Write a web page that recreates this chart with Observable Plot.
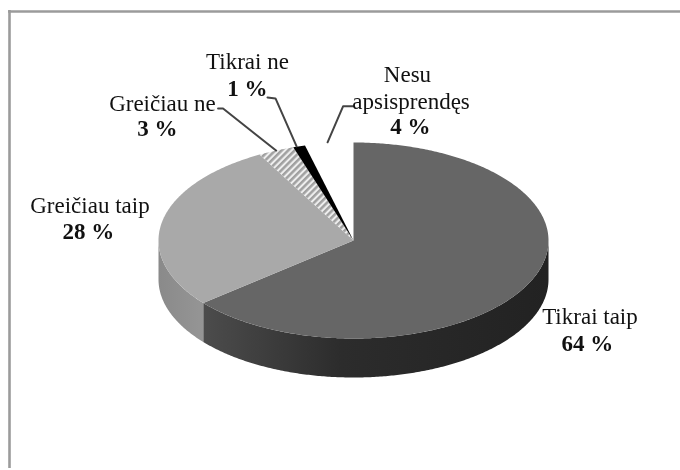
<!DOCTYPE html>
<html><head><meta charset="utf-8">
<script src="https://cdn.jsdelivr.net/npm/d3@7"></script>
<script src="https://cdn.jsdelivr.net/npm/@observablehq/plot@0.6"></script>
<style>html,body{margin:0;padding:0;background:#fff}svg{display:block}</style>
</head><body><div id="chart"></div>
<script>
// Data: share of answers, clockwise from 12 o'clock
const categories = ["Tikrai taip", "Greičiau taip", "Greičiau ne", "Tikrai ne", "Nesu apsisprendęs"];
const values = [64, 28, 3, 1, 4];
const percentLabels = ["64 %", "28 %", "3 %", "1 %", "4 %"];

// Styling and layout (not data)
const topFills = ["#666666", "#a9a9a9", "url(#hatch)", "#000000", "none"];
const pie = {cx: 353, cy: 240, rx: 195, ry: 98, depth: 39};
// text lines relative to the slice's rim point
const textLayout = [
  [{t: "Tikrai taip", dx: 60, dy: 34}, {t: 0, dx: 57.5, dy: 61}],
  [{t: "Greičiau taip", dx: -72, dy: -17}, {t: 1, dx: -73.5, dy: 9}],
  [{t: "Greičiau ne", dx: -113.6, dy: -47}, {t: 2, dx: -118.6, dy: -22}],
  [{t: "Tikrai ne", dx: -51.6, dy: -85}, {t: 3, dx: -51.6, dy: -58}],
  [{t: "Nesu", dx: 78.4, dy: -69}, {t: "apsisprendęs", dx: 82, dy: -42}, {t: 4, dx: 81.4, dy: -17}]
];
// leader elbows relative to the slice's rim point
const leaderLayout = {2: [[-58, -42], [-53, -42], [0, 0]], 3: [[-31.6, -49], [-23.6, -48], [-2.5, 0]], 4: [[24, -37], [14, -37], [-1.5, -1]]};

const total = d3.sum(values);
const pt = (a, drop = 0) => ({x: pie.cx + pie.rx * Math.sin(a), y: pie.cy - pie.ry * Math.cos(a) + drop});
let acc = 0;
const slices = values.map((v, i) => {
  const a0 = acc / total * 2 * Math.PI; acc += v;
  const a1 = acc / total * 2 * Math.PI;
  return {i, a0, a1, mid: (a0 + a1) / 2};
});
const arc = (a0, a1, drop = 0) => {
  const n = Math.max(4, Math.ceil((a1 - a0) / 0.01));
  return d3.range(n + 1).map(k => pt(a0 + (a1 - a0) * k / n, drop));
};

// Top face polygons
const topPolys = slices.filter(s => topFills[s.i] !== "none").flatMap(s => {
  const c = {x: pie.cx, y: pie.cy};
  return [c, ...arc(s.a0, s.a1), c].map(p => ({...p, id: s.i, fill: topFills[s.i]}));
});

// Side wall of the two front slices
const sidePolys = slices.slice(0, 2).flatMap(s => {
  const from = Math.max(s.a0, Math.PI / 2), to = Math.min(s.a1, 3 * Math.PI / 2);
  const top = arc(from, to), low = arc(from, to, pie.depth).reverse();
  return [...top, ...low, top[0]].map(p => ({...p, id: s.i, fill: `url(#side${s.i})`}));
});

const rim = slices.map(s => pt(s.mid));
const textRows = textLayout.flatMap((lines, i) => lines.map(l => ({
  x: rim[i].x + l.dx, y: rim[i].y + l.dy,
  label: typeof l.t === "number" ? percentLabels[l.t] : l.t,
  bold: typeof l.t === "number"
})));
const leaderRows = Object.entries(leaderLayout).flatMap(([i, ps]) => ps.map(([dx, dy]) => ({x: rim[i].x + dx, y: rim[i].y + dy, id: i})));

const defs = () => {
  const ns = "http://www.w3.org/2000/svg";
  const d = document.createElementNS(ns, "defs");
  const split = pt(slices[0].a1).x, right = pie.cx + pie.rx, left = pie.cx - pie.rx;
  d.innerHTML = `<pattern id="hatch" patternUnits="userSpaceOnUse" width="4.6" height="4.6" patternTransform="rotate(-45)"><rect width="4.6" height="4.6" fill="#eeeeee"/><rect width="4.6" height="2.5" fill="#a0a0a0"/></pattern>
  <linearGradient id="side0" gradientUnits="userSpaceOnUse" x1="${split}" x2="${right}" y1="0" y2="0"><stop offset="0" stop-color="#4c4c4c"/><stop offset="0.4" stop-color="#2c2c2c"/><stop offset="1" stop-color="#222222"/></linearGradient>
  <linearGradient id="side1" gradientUnits="userSpaceOnUse" x1="${left}" x2="${split}" y1="0" y2="0"><stop offset="0" stop-color="#8a8a8a"/><stop offset="1" stop-color="#959595"/></linearGradient>`;
  return d;
};

const chart = Plot.plot({
  width: 680, height: 470, margin: 0,
  style: {background: "#fff", filter: "blur(0.4px)"},
  x: {domain: [0, 680], range: [0, 680], axis: null},
  y: {domain: [0, 470], range: [0, 470], axis: null},
  marks: [
    defs,
    Plot.ruleX([9], {y1: 10, y2: 468, stroke: "#9b9b9b", strokeWidth: 2.6}),
    Plot.ruleY([11], {x1: 8, x2: 680, stroke: "#9b9b9b", strokeWidth: 2.6}),
    Plot.line(sidePolys, {x: "x", y: "y", z: "id", fill: "fill", stroke: null}),
    Plot.line(topPolys, {x: "x", y: "y", z: "id", fill: "fill", stroke: null}),
    Plot.line(leaderRows, {x: "x", y: "y", z: "id", stroke: "#444444", strokeWidth: 2, strokeLinejoin: "round"}),
    Plot.text(textRows.filter(d => !d.bold), {x: "x", y: "y", text: "label", fill: "#111", fontSize: 23, fontFamily: "Liberation Serif"}),
    Plot.text(textRows.filter(d => d.bold), {x: "x", y: "y", text: "label", fill: "#111", fontSize: 23, fontWeight: "bold", fontFamily: "Liberation Serif"})
  ]
});
document.getElementById("chart").append(chart);
</script></body></html>
